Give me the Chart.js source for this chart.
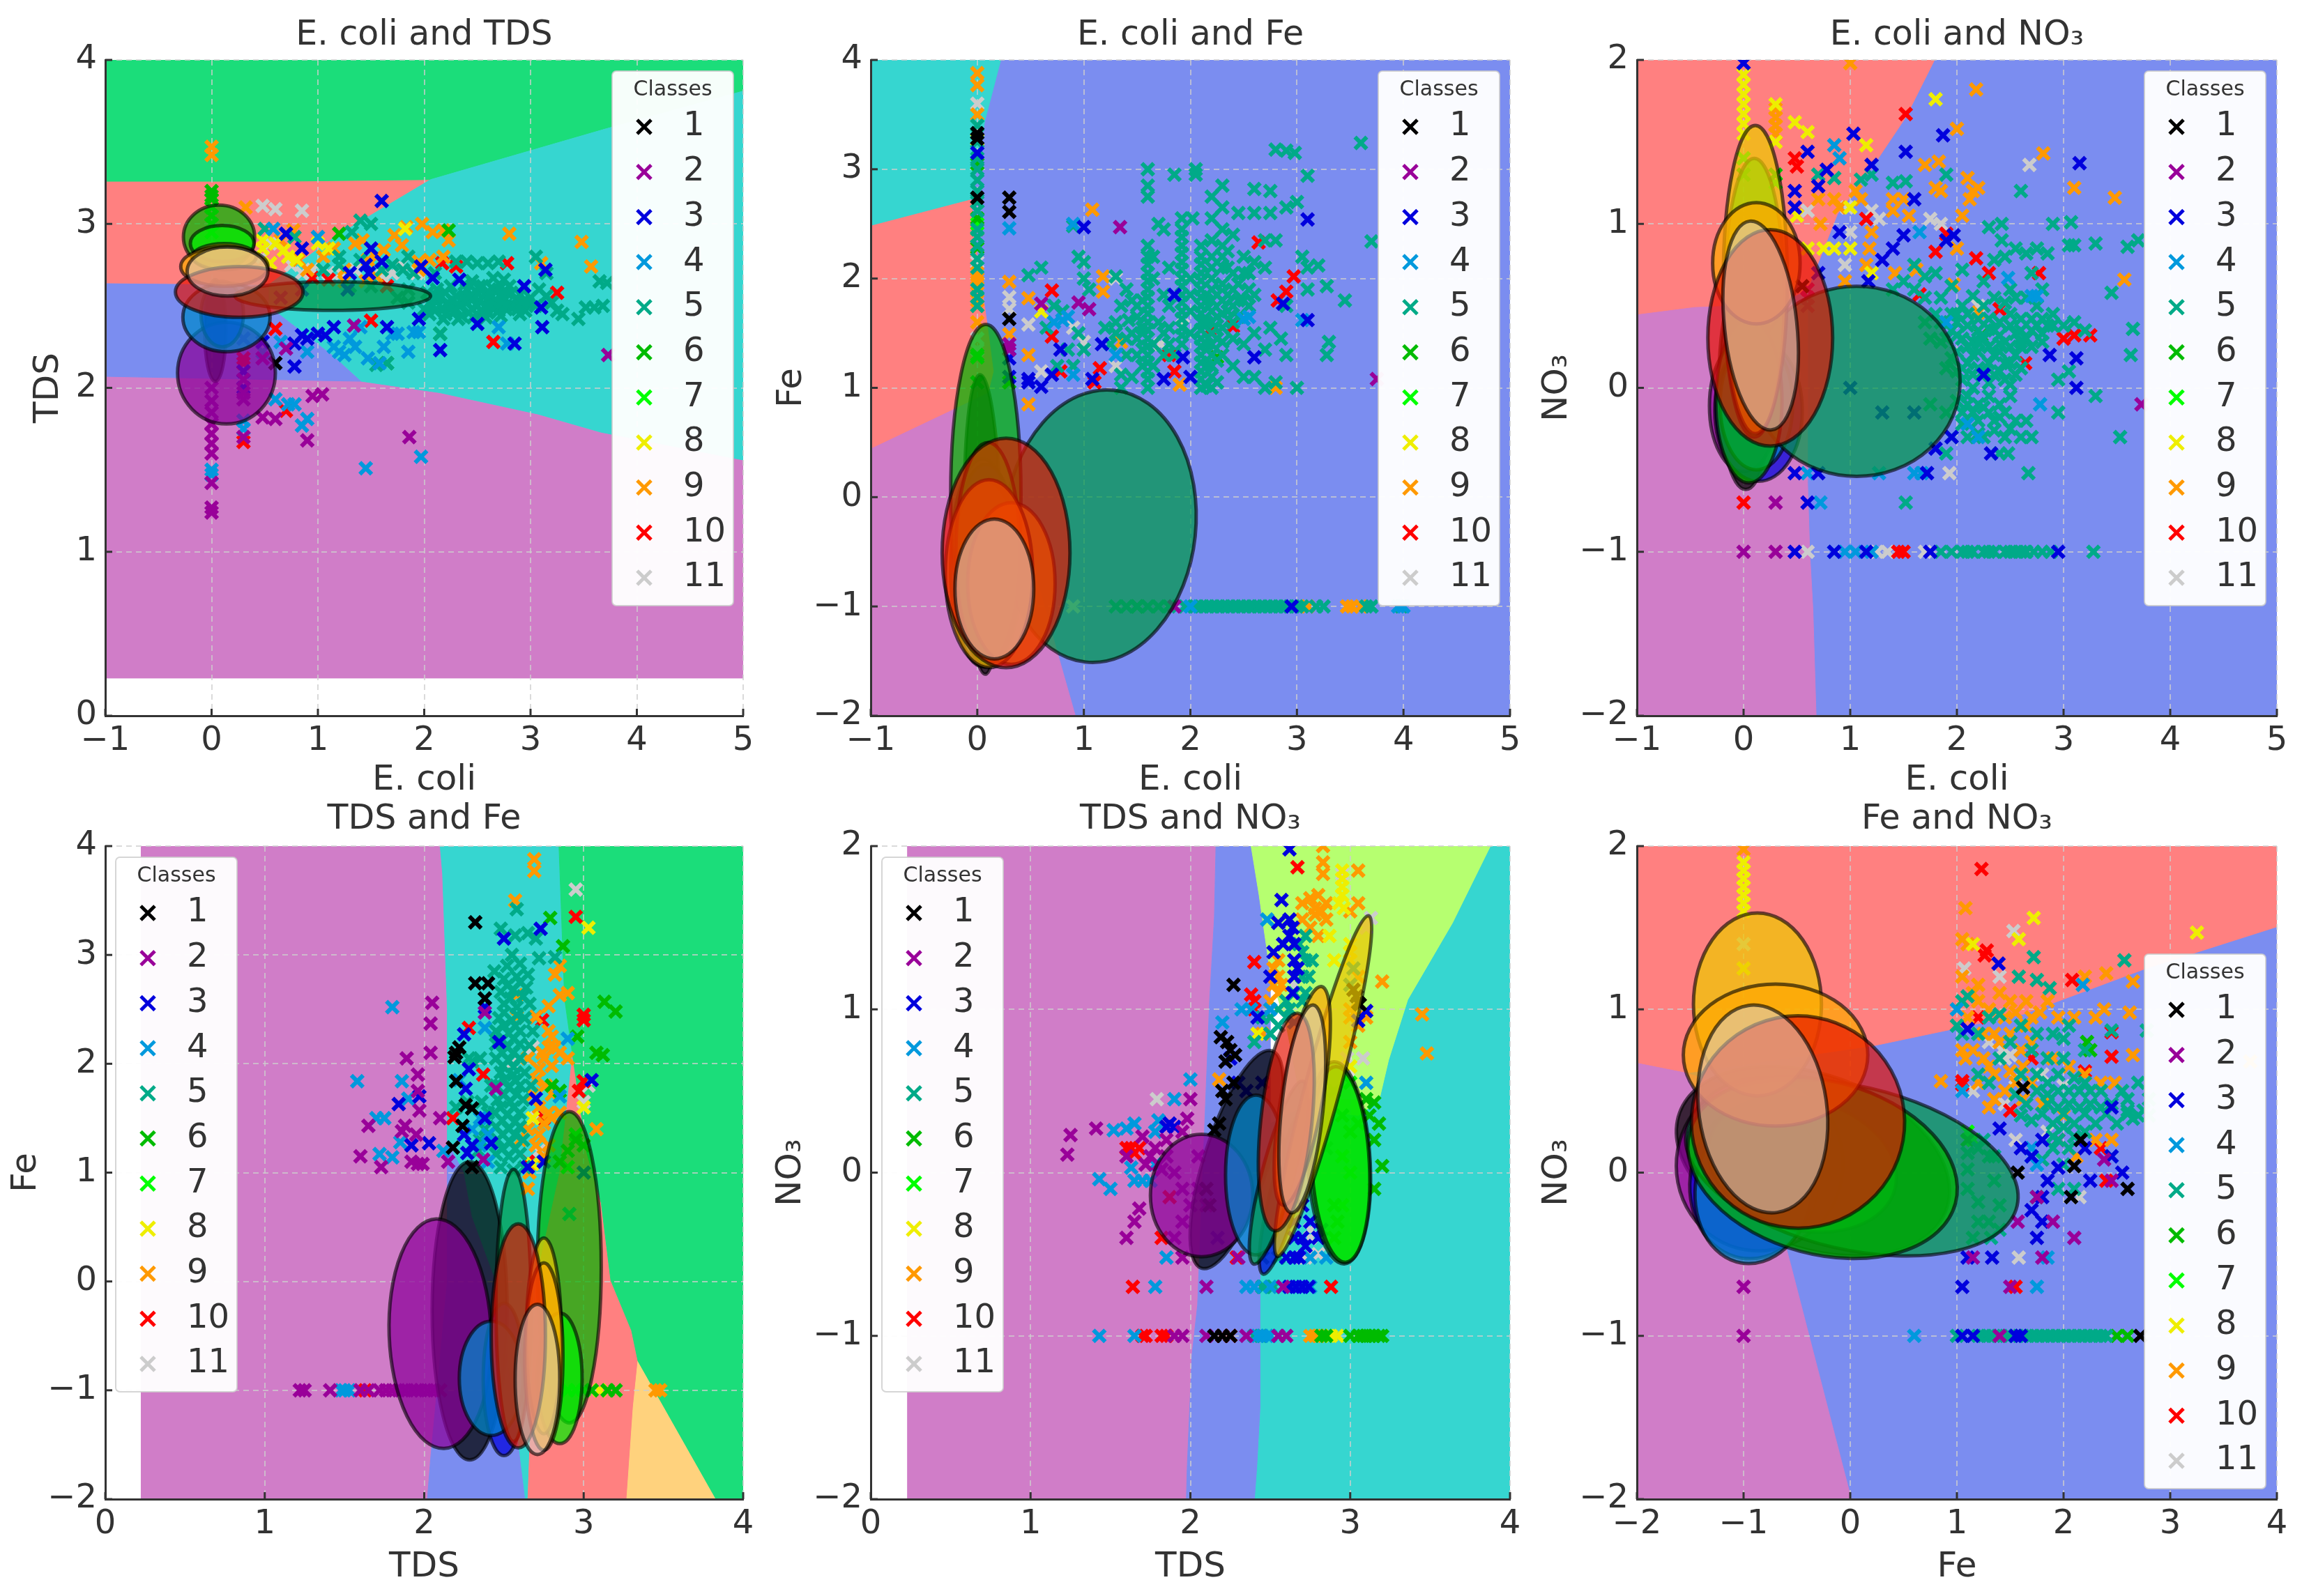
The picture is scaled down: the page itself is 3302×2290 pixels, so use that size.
<!DOCTYPE html>
<html>
<head>
<meta charset="utf-8">
<title>Decision regions</title>
<script src="https://cdn.jsdelivr.net/npm/chart.js@4/dist/chart.umd.js"></script>
<style>
  html, body { margin: 0; padding: 0; background: #fff; }
  #wrap { position: relative; width: 3302px; height: 2290px; overflow: hidden; }
  canvas { position: absolute; }
</style>
</head>
<body>
<div id="wrap"></div>
<script>
const classNames = ['1', '2', '3', '4', '5', '6', '7', '8', '9', '10', '11'];
const classColors = ['#000000', '#990099', '#0000dd', '#0099dd', '#00aa88', '#00bb00', '#00ff00', '#eeee00', '#ff9900', '#ff0000', '#cccccc'];
const ellipseColors = ['#000000', '#8a0099', '#0000dd', '#0088cc', '#00984a', '#00b400', '#00f000', '#eec800', '#ffa800', '#e81000', '#d8d0c8'];
const ellipseAlphas = [.72, .72, .72, .72, .72, .72, .72, .72, .72, .68, .55];

const titles = ['E. coli and TDS', 'E. coli and Fe', 'E. coli and NO₃', 'TDS and Fe', 'TDS and NO₃', 'Fe and NO₃'];
const xLabels = ['E. coli', 'E. coli', 'E. coli', 'TDS', 'TDS', 'Fe'];
const yLabels = ['TDS', 'Fe', 'NO₃', 'Fe', 'NO₃', 'NO₃'];

const ecoliTicks = [-1, 0, 1, 2, 3, 4, 5];
const tdsTicks = [0, 1, 2, 3, 4];
const feTicks = [-2, -1, 0, 1, 2, 3, 4];
const no3Ticks = [-2, -1, 0, 1, 2];
const xTicks = [ecoliTicks, ecoliTicks, ecoliTicks, tdsTicks, tdsTicks, feTicks];
const yTicks = [tdsTicks, feTicks, no3Ticks, feTicks, no3Ticks, no3Ticks];

const GREEN = '#1bdd7a', RED = '#ff8080', BLUE = '#7b8df0', PURPLE = '#d07dc8', TEAL = '#36d6d0', LIME = '#b6ff70', AMBER = '#ffd27d', GREY = '#dddddd';

// decision regions, colour then outline in data coordinates
const regions1 = [
  [PURPLE, [-1,.23, 5,.23, 5,1.56, 3.66,1.73, 3.07,1.84, 2.15,1.97, 1.41,2.04, -1,2.07]],
  [BLUE, [-1,2.07, 1.41,2.04, 1.14,2.2, .54,2.5, .54,2.63, -1,2.64]],
  [RED, [-1,2.64, .54,2.63, 1.18,2.93, 2.06,3.27, .65,3.26, -1,3.26]],
  [GREEN, [-1,3.26, .65,3.26, 2.06,3.27, 3.71,3.58, 5,3.81, 5,4, -1,4]],
  [TEAL, [.54,2.63, 1.18,2.93, 2.06,3.27, 3.71,3.58, 5,3.81, 5,1.56, 3.66,1.73, 3.07,1.84, 2.15,1.97, 1.41,2.04, 1.14,2.2, .54,2.5]]
];
const regions2 = [
  [BLUE, [-1,-2, 5,-2, 5,4, -1,4]],
  [TEAL, [-1,4, .22,4, .07,3.44, -.06,2.72, -1,2.48]],
  [RED, [-1,2.48, -.06,2.72, 0,2.2, .09,1.6, .15,1.15, .1,.95, -1,.44]],
  [PURPLE, [-1,.44, .1,.95, .25,.3, .92,-2, -1,-2]]
];
const regions3 = [
  [BLUE, [-1,-2, 5,-2, 5,2, -1,2]],
  [RED, [-1,2, 1.79,2, 1.52,1.65, 1.2,1.34, .88,1.06, .6,.6, .32,.51, -.46,.49, -1,.445]],
  [PURPLE, [-1,.445, -.46,.49, .32,.51, .6,.5, .6,-.58, .62,-1, .65,-1.35, .68,-2, -1,-2]]
];
const regions4 = [
  [PURPLE, [.225,-2, 2.02,-2, 2.04,-1.63, 2.145,0, 2.145,2.5, 2.115,3.75, 2.1,4, .225,4]],
  [BLUE, [2.145,1.3, 2.25,1, 2.3,.6, 2.45,0, 2.55,-1, 2.635,-2, 2.02,-2, 2.04,-1.63, 2.145,0]],
  [TEAL, [2.1,4, 2.845,4, 2.88,2.6, 2.93,2.08, 2.85,1, 2.7,0, 2.65,-2, 2.635,-2, 2.55,-1, 2.45,0, 2.3,.6, 2.25,1, 2.145,1.3, 2.145,2.5, 2.115,3.75]],
  [RED, [2.93,2.08, 3.02,1.18, 3.11,.72, 3.17,.01, 3.3,-.45, 3.34,-.73, 3.31,-1.16, 3.27,-2, 2.65,-2, 2.7,0, 2.85,1]],
  [AMBER, [3.34,-.73, 3.83,-2, 3.27,-2, 3.31,-1.16]],
  [GREEN, [2.845,4, 4,4, 4,-2, 3.83,-2, 3.34,-.73, 3.3,-.45, 3.17,.01, 3.11,.72, 3.02,1.18, 2.93,2.08, 2.88,2.6]]
];
const regions5 = [
  [PURPLE, [.23,-2, 1.975,-2, 1.98,-1.81, 2.01,-1.12, 2.045,-.81, 2.12,1.05, 2.15,1.56, 2.16,2, .23,2]],
  [BLUE, [1.975,-2, 2.405,-2, 2.42,-1.8, 2.44,-1.44, 2.44,-.66, 2.5,.3, 2.5,1.22, 2.43,1.7, 2.38,2, 2.16,2, 2.15,1.56, 2.12,1.05, 2.045,-.81, 2.01,-1.12, 1.98,-1.81]],
  [TEAL, [2.405,-2, 4,-2, 4,2, 3.877,2, 3.64,1.53, 3.36,1.06, 3.24,.69, 3.18,.44, 3.05,.35, 2.7,.4, 2.5,.3, 2.44,-.66, 2.44,-1.44, 2.42,-1.8]],
  [LIME, [2.38,2, 3.877,2, 3.64,1.53, 3.36,1.06, 3.24,.69, 3.18,.44, 3.05,.35, 2.7,.4, 2.6,.9, 2.5,1.22, 2.43,1.7]],
  [GREY, [3.0,.75, 2.9,.45, 3.05,.45]]
];
const regions6 = [
  [BLUE, [-2,-2, 4,-2, 4,2, -2,2]],
  [RED, [-2,2, 4,2, 4,1.506, 2.77,1.25, 1.62,.97, .24,.78, -1.54,.61, -2,.67]],
  [PURPLE, [-2,.67, -1.54,.61, -1,.5, -.56,-.56, .01,-2, -2,-2]]
];
const regionSets = [regions1, regions2, regions3, regions4, regions5, regions6];

// class index (0 based), centre x, centre y, radius x, radius y, tilt in degrees
const ellipses1 = [
  [0, .035,2.35, .1,.31, 0], [1, .14,2.09, .46,.31, 0], [2, .1,2.45, .2,.2, 0], [3, .14,2.43, .41,.21, 0],
  [4, 1.14,2.56, .92,.087, 0], [5, .07,2.92, .335,.195, 0], [6, .1,2.88, .3,.11, 0], [7, .12,2.8, .3,.08, 0],
  [8, .12,2.74, .41,.12, 0], [9, .26,2.585, .6,.155, 0], [10, .15,2.71, .38,.15, 0]
];
const ellipses2 = [
  [0, .05,-.25, .17,1.37, -1], [1, .05,-.6, .3,.95, 0], [2, .08,-.6, .3,.9, 0], [3, .08,-.7, .33,.85, 0],
  [4, 1.15,-.265, .9,1.25, 6], [5, .08,.02, .33,1.56, 0], [6, .1,-.5, .3,1.0, 0], [7, .32,-.79, .41,.74, 0],
  [8, .11,-.7, .41,.86, 0], [9, .27,-.51, .6,1.05, 0], [10, .16,-.84, .37,.64, 0]
];
const ellipses3 = [
  [0, .02,.04, .25,.66, 0], [1, 0,-.11, .32,.4, 0], [2, .14,-.14, .41,.43, 0], [3, .12,-.1, .34,.4, 0],
  [4, 1.06,.04, .97,.58, 0], [5, .05,-.08, .31,.5, 0], [6, .1,.55, .28,.85, 0], [7, .11,.66, .3,.94, 0],
  [8, .12,.76, .41,.37, 0], [9, .25,.305, .585,.66, 0], [10, .16,.38, .34,.64, -6]
];
const ellipses4 = [
  [0, 2.285,-.27, .235,1.37, 0], [1, 2.1,-.48, .32,1.055, -2], [2, 2.5,-.9, .13,.7, 0], [3, 2.42,-.89, .2,.525, 0],
  [4, 2.56,-.22, .11,1.25, 0], [5, 2.91,.13, .2,1.43, 0], [6, 2.85,-.89, .14,.6, 0], [7, 2.75,-.5, .11,.9, 0],
  [8, 2.75,-.69, .12,.86, 0], [9, 2.59,-.5, .17,1.03, 0], [10, 2.71,-.9, .14,.69, 0]
];
const ellipses5 = [
  [0, 2.29,.08, .2,.7, 18], [1, 2.07,-.14, .32,.375, 0], [2, 2.6,-.09, .09,.55, 15], [3, 2.41,-.015, .19,.49, 0],
  [4, 2.55,.0, .1,.58, 15], [5, 2.93,.06, .195,.62, -3], [6, 2.94,.05, .18,.6, -3], [7, 2.83,.53, .11,1.08, 15],
  [8, 2.7,.47, .13,.68, 10], [9, 2.6,.31, .16,.67, 6], [10, 2.7,.39, .13,.64, 6]
];
const ellipses6 = [
  [0, -.35,.07, 1.33,.53, 20], [1, -.85,.05, .78,.53, 10], [2, -.9,-.05, .6,.48, 10], [3, -.9,-.09, .55,.47, 10],
  [6, -.45,.05, .9,.4, 15], [4, .015,.03, 1.59,.5, 13], [5, -.26,.03, 1.29,.53, 15], [7, -.87,1.03, .6,.56, 0],
  [8, -.7,.72, .865,.435, 0], [9, -.49,.31, 1.0,.65, 10], [10, -.82,.39, .6,.64, -8]
];
const ellipseSets = [ellipses1, ellipses2, ellipses3, ellipses4, ellipses5, ellipses6];

// scatter marks, one flat x,y list per class
const points1 = [
  [.6,2.15],
  [0,1.24, 0,1.27, 0,1.42, 0,1.6, 0,1.66, 0,1.72, 0,1.78, 0,1.85, 0,1.92, 0,2, .3,1.7, .3,1.93, .3,1.97, .3,2.05, .48,1.82, .6,1.81, .48,2.18, .7,2.24, .95,1.95, 1.04,1.96, .9,1.68, 1.86,1.7, 3.73,2.2, 1.34,2.38],
  [1.6,3.14, .7,2.94, .85,2.6, .78,2.27, .78,2.13, .85,2.32, .9,2.3, 1,2.33, 1.07,2.32, 1.15,2.37, 1.65,2.37, 1.95,2.42, 2.15,2.23, 2.08,2.67, 2.33,2.66, 2.5,2.39, 2.94,2.62, 3.1,2.49, 3.11,2.37, 3.14,2.72, 2.85,2.27, 1.97,2.74, 1.45,2.75, 1.5,2.85, 1.6,2.77, .85,2.85, .65,2.55, 1.28,2.6, 1.3,2.7, 1.48,2.7, .3,2.3, .3,2.1, .3,2, .48,2.28],
  [0,1.5, 0,1.47, .3,1.75, .3,1.8, .6,1.93, .72,1.9, .78,1.9, .9,1.81, .85,1.77, 1.45,1.51, 1.97,1.58, 1.25,2.2, 1.2,2.22, 1.35,2.25, 1.47,2.18, 1.58,2.15, 1.62,2.25, 1.3,2.3, 1.4,2.37, 1.75,2.33, 1.85,2.22, 1.9,2.34, 1.95,2.34, 2.7,2.37, 2.78,2.27, .9,2.22, .65,2.28, .58,2.97, 1,2.92, .48,2.22, 1.15,2.25, 1.7,2.33],
  [1.2,2.8, 1.32,2.95, 1.4,3.02, 1.5,3, .5,2.97, .78,2.92, 2.3,2.77, 2.4,2.77, 2.5,2.76, 2.6,2.76, 2.7,2.77, 3.05,2.8, 3.15,2.7, 2,2.48, 2.05,2.52, 2.1,2.47, 2.15,2.55, 2.2,2.45, 2.25,2.5, 2.3,2.56, 2.35,2.44, 2.4,2.52, 2.45,2.48, 2.5,2.58, 2.55,2.46, 2.6,2.53, 2.65,2.6, 2.7,2.47, 2.75,2.55, 2.8,2.62, 2.85,2.5, 2.9,2.57, 2.95,2.47, 2.2,2.58, 2.3,2.48, 2.4,2.6, 2.5,2.5, 2.6,2.46, 2.7,2.6, 2.8,2.5, 2.9,2.45, 2.65,2.67, 2.55,2.62, 2.75,2.66, 3,2.55, 3.08,2.6, 3.15,2.56, 3.2,2.52, 3.25,2.47, 3.3,2.45, 3.45,2.42, 3.52,2.49, 3.6,2.49, 3.68,2.5, 3.65,2.65, 3.72,2.64, 2.15,2.33, 1.65,2.15, 1.55,2.14, 1.85,2.6, 1.7,2.75, 1.8,2.72, 1.9,2.7, 2.1,2.7, 1.3,2.62, 1.5,2.62, 1.75,2.55, 1.85,2.52, 1.2,2.75, 1.05,2.72, 1.4,2.78, 1.6,2.72, 1.85,2.8, 2.05,2.45, 2.45,2.65, 2.03,2.58, 2.12,2.6, 2.27,2.53, 2.37,2.55, 2.47,2.55, 2.57,2.57, 2.67,2.53, 2.77,2.48, 2.87,2.54, 2.97,2.52, 3.05,2.5, 2.22,2.52, 2.42,2.46, 2.62,2.5, 2.82,2.58,
   2.08,2.5, 2.18,2.48, 2.28,2.46, 2.33,2.5, 2.43,2.56, 2.52,2.53, 2.58,2.5, 2.68,2.5, 2.73,2.52, 2.78,2.58, 2.88,2.48, 2.92,2.52, 2.72,2.44, 2.58,2.43, 2.46,2.43, 2.32,2.42, 2.18,2.42, 2.62,2.57, 2.72,2.57, 2.52,2.62, 2.38,2.63, 2.25,2.62, 2.12,2.55],
  [0,3.2, 0,3.17, 0,3.15, 1.2,2.94, 2.23,2.96, 1.65,2.15, 2.15,2.33],
  [0,3.1, 0,3.05, 0,3, 0,2.95],
  [.48,2.9, .6,2.88, .68,2.84, .72,2.8, .8,2.78, 1,2.88, 1.1,2.85, 1.82,2.97, .48,2.85, .55,2.76],
  [0,3.47, 0,3.42, .32,3.1, .77,2.96, .65,2.9, .82,2.78, .9,2.72, 1.05,2.8, 1.15,2.85, 1.25,2.72, 1.35,2.88, 1.42,2.9, 1.47,2.78, 1.55,2.8, 1.62,2.84, 1.72,2.93, 1.83,2.98, 1.79,2.87, 1.98,3, 2.08,2.95, 2.18,2.96, 2.23,2.9, 2.18,2.8, 1.95,2.77, 2.05,2.78, 2.8,2.94, 3.48,2.89, 3.57,2.74, 3.1,2.76, 1.45,2.65, 1.55,2.68, 1.25,2.65, 1.95,2.72],
  [.6,2.36, .3,2.15, .3,2.18, .3,1.67, .7,1.86, 2.17,2.76, 2.3,2.74, 2.78,2.76, 2.65,2.28, 1.65,2.62, 1.1,2.66, .95,2.67, 1.5,2.41, 3.25,2.58],
  [.48,3.11, .6,3.09, .85,3.08, .48,2.8, .75,2.75, .85,2.7, .95,2.72, 1.1,2.7, 1.22,2.7, 1.35,2.72, 1.7,2.7, 1.78,2.75, 1.93,2.7, .55,2.88, 1.6,2.68]
];
const points2 = [
  [0,3.33, 0,3.28, 0,2.74, .3,2.74, .3,2.61, .3,1.63],
  [.6,1.77, .95,1.78, 1.05,1.72, 1.34,2.47, .3,1.4, .3,1.35, 1.85,-1, 3.75,1.08],
  [0,3.15, .3,1.27, .3,1.1, .48,1.05, .48,1.08, .6,1.01, .7,1.12, .78,1.35, 1,2.47, 1.08,1.08, 1.17,1.4, 1.75,1.08, 1.85,1.85, 1.93,1.28, 2,1.1, 2.6,1.28, 2.87,1.77, 3.1,2.54, 3.1,1.62, 2.95,-1],
  [.3,2.46, .9,2.5, .72,1.6, .8,1.62, .85,1.65, .9,1.12, 1.3,1.3, 2.5,1.63, 2.55,1.65, 3.05,1.62, 2,-1, 3.95,-1, 4,-1],
  [0,1.75, 0,1.83, 0,1.9, 0,2.1, 0,2.18, 0,2.3, 0,2.38, 0,2.45, 0,2.62, 0,2.7, 0,2.8, 0,2.9, 0,3, 0,3.1, 0,3.25, 0,3.4,
   .48,2.03, .6,2.1, .72,1.75, .8,1.7, .65,1.55, .75,1.2, .85,1.35, .9,1.2, .95,1.5, 1,1.35, .95,2.2, 1,2.15, 1,2, 1.05,1.9, .9,2.48, 1.3,2.02, 1.35,1, 1.2,1.55, 1.25,1.4, 1.3,1.6, 1.35,1.75, 1.4,1.9, 1.45,1.5, 1.5,1.3, 1.45,1.1, 1.5,1.65, 1.55,1.8, 1.55,1.2,
   1.35,1.12, 1.3,1.5, 1.4,1.3, 1.4,1.45, 1.42,1.62, 1.5,1.45, 1.5,1.75, 1.45,1.8, 1.55,1.55,
   1.6,2.75, 1.6,2.85, 1.6,3, 1.6,1, 1.6,1.08, 1.6,1.15, 1.6,1.23, 1.6,1.3, 1.6,1.38, 1.6,1.45, 1.6,1.53, 1.6,1.6, 1.6,1.68, 1.6,1.75, 1.6,1.83, 1.6,1.9, 1.6,1.98, 1.6,2.05, 1.6,2.13, 1.6,2.2, 1.6,2.3, 1.55,1.35, 1.55,1.5, 1.65,1.2, 1.65,1.4, 1.65,2, 1.65,2.2,
   1.7,2.5, 1.75,2.45, 1.7,1.6, 1.75,1.3, 1.8,1.75, 1.8,2.1,
   1.85,2.95, 1.92,1.4, 1.92,1.48, 1.92,1.55, 1.92,1.63, 1.92,1.7, 1.92,1.78, 1.92,1.85, 1.92,1.93, 1.92,2, 1.92,2.08, 1.92,2.15, 1.92,2.23, 1.92,2.3, 1.92,2.38, 1.92,2.45, 1.92,2.55, 2.02,2.55,
   2.1,1, 2.1,1.08, 2.1,1.15, 2.1,1.23, 2.1,1.3, 2.1,1.38, 2.1,1.45, 2.1,1.53, 2.1,1.6, 2.1,1.68, 2.1,1.75, 2.1,1.83, 2.1,1.9, 2.1,1.98, 2.1,2.05, 2.1,2.13, 2.1,2.2, 2.1,2.3, 2.05,3, 2.05,2.95,
   2.2,1, 2.2,1.1, 2.2,1.2, 2.2,1.3, 2.2,1.4, 2.2,1.5, 2.2,1.6, 2.2,1.7, 2.2,1.8, 2.2,1.9, 2.2,2, 2.2,2.1, 2.2,2.2, 2.2,2.35, 2.2,2.55, 2.2,2.75, 2.3,1.3, 2.3,1.42, 2.3,1.55, 2.3,1.68, 2.3,1.8, 2.3,1.95, 2.3,2.1, 2.3,2.2, 2.3,2.3, 2.3,2.45, 2.3,2.65, 2.3,2.85,
   2.15,1.02, 2.25,1.05, 2.15,1.2, 2.25,1.25, 2.15,1.4, 2.25,1.45, 2.15,1.6, 2.25,1.65, 2.15,1.8, 2.25,1.85, 2.35,1.7, 2.35,1.85, 2.35,2.1, 2.35,2.25, 2.45,1.65, 2.45,1.8, 2.45,1.95, 2.55,1.75, 2.55,1.9, 2.55,2.05, 2,1.7, 2,1.5, 2,1.85, 2,2, 1.75,1.5, 1.75,1.85, 1.8,1.4, 1.8,1.55, 1.85,1.3,
   2.4,1.2, 2.4,1.45, 2.4,1.6, 2.4,1.75, 2.4,1.9, 2.4,2.05, 2.4,2.4, 2.45,2.6, 2.5,1.1, 2.5,1.4, 2.5,1.8, 2.5,2.2, 2.5,2.05, 2.6,1.1, 2.6,1.5, 2.6,1.85, 2.6,2.15, 2.6,2.6, 2.6,2.82, 2.7,1, 2.7,1.35, 2.7,2.1, 2.7,2.35, 2.75,1.55, 2.75,2.6, 2.75,2.8, 2.8,1.05, 2.8,2.35, 2.85,1.45, 2.9,1.3, 2.9,1.75, 2.9,2.65, 3,1, 3,2.7, 3.05,2.2, 3.1,2.1, 3.1,1.9, 3.1,2.94, 2.8,3.18, 2.9,3.17, 2.98,3.15, 3.2,2.12, 3.28,1.93, 3.45,1.8, 3.3,1.42, 3.28,1.3, 3.6,3.24, 3.7,2.34,
   1.3,-1, 1.4,-1, 1.5,-1, 1.6,-1, 1.7,-1, 1.8,-1, 1.95,-1, 2.05,-1, 2.1,-1, 2.15,-1, 2.2,-1, 2.25,-1, 2.3,-1, 2.35,-1, 2.4,-1, 2.45,-1, 2.5,-1, 2.55,-1, 2.6,-1, 2.65,-1, 2.7,-1, 2.75,-1, 2.8,-1, 2.85,-1, 2.9,-1, 3,-1, 3.05,-1, 3.18,-1, 3.25,-1, 3.65,-1, 3.7,-1, 3.98,-1],
  [0,3.05, 0,2.55, 0,2.28, 0,1.05, .3,1.05, 2.25,1.28, 1.5,-1],
  [0,1.3, 0,1.28, 0,2.5],
  [0,3.27, .6,1.7],
  [0,3.88, 0,3.77, 0,3.5, 0,2.45, 0,2.05, 0,2, 0,1.95, 0,1.8, 0,1.75, 0,1.6, .3,1.97, .3,1.49, .48,1.82, .48,1.3, .48,.85, 1.08,2.63, 1.18,2.02, 1.18,1.88, 1.35,1.42, 1.9,1.03, 2.8,1, 3.1,-1, 3.47,-1, 3.52,-1, 3.6,-1],
  [.7,1.89, .7,1.47, .78,1.15, 1.15,1.18, 1.1,1.05, 1.8,1.3, 1.85,1.15, 2.18,1.53, 2.4,1.56, 2.64,2.33, 2.82,1.8, 2.9,1.88, 2.97,2.02],
  [0,3.6, 0,2.15, 0,1.45, 0,1.35, .3,1.83, .3,1.72, .48,1.58, .6,1.15, .9,1.55, 1,1.42, 1.3,1.2, 1.3,2, 1.72,1.4, 1.93,1.57, .9,-1]
];
const points3 = [
  [.55,.62],
  [0,-1, .3,-1, .3,-.7, 3.73,-.1, .6,.6, .6,.55, .6,.5],
  [0,1.98, .48,1.2, .48,1.1, .6,1.44, .78,1.33, .7,1.23, .9,.95, 1.03,1.55, 1.2,1.36, 1.52,1.44, 1.6,1.15, 1.87,1.54, 1.4,.85, 1.5,.93, 1.9,.9, 1.97,.93, 3.15,1.37, .7,.7, 1.17,.65, 1.3,.78, 2.25,.08, 2.32,-.4, 2.87,.2, 3.12,.18, 3.12,0, 1.95,-.3, 1.8,-.37, 1.72,-.52, .48,-.52, .7,-.52, .6,-.7, .48,-1, .85,-1, 1.15,-1, 1.75,-1, 2.95,-1, 1,0, 1.3,-.15, 1.6,-.15],
  [.85,1.48, .9,1.4, 1.65,.95, 2.48,.67, 2.7,.56, 2.75,.56, 2.78,-.1, .6,-.52, .72,-.7, 1.27,-.52, 1.6,-.52, 1.67,-.52, .85,-1, .95,-1, 1.05,-1, 1.2,-1, 2.2,-.3, 2.1,-.22, 1.9,.4],
  [.7,1.3, .85,1.28, 1.1,1.27, 1.2,1.3, 1.4,1.25, 1.52,1.26, 1.9,1.3, 2.6,1.2, 2.3,.98, 2.42,1, 2.42,.9, 2.9,1, 3.07,1.01, 3.05,.87, 3.1,.87, 3.3,.88, 3.6,.86, 3.7,.9, 3.45,.58, 3.65,.36, 3.63,.2, 3.53,-.3, 3.3,-.05, 2.95,-.15, 3.05,.1, 2.95,.05, 1.52,-.7, 2.67,-.52,
   1.6,.75, 1.7,.68, 1.8,.7, 1.95,.62, 2.05,.72, 2.15,.56, 2.25,.65, 2.35,.78, 2.45,.8, 2.55,.85, 2.65,.82, 2.75,.85, 2.85,.82, 2.5,.6, 2.7,.7, 2.8,.6, 1.7,.4, 1.8,.45, 1.9,.3, 2,.4, 2.1,.45, 2.2,.35, 2.3,.42, 2.4,.32, 2.5,.45, 2.6,.35, 2.7,.42, 2.8,.33, 2.9,.45, 3,.38, 3.1,.4, 3.2,.35, 2,.22, 2.1,.15, 2.2,.22, 2.3,.15, 2.4,.22, 2.5,.15, 2.6,.25, 2.7,.25, 1.9,.12, 2.05,.05, 2.15,.08, 2.35,.08, 2.45,.05, 2.55,.08, 2,-.08, 2.1,-.05, 2.2,-.1, 2.3,-.05, 2.4,-.1, 2.5,-.05, 1.75,-.1, 1.9,-.15, 2.2,-.2, 2.35,-.2, 2.55,-.2, 2.65,-.2, 1.95,-.3, 2.1,-.3, 2.25,-.3, 2.45,-.3, 2.6,-.3, 2.7,-.3, 1.9,-.4, 2.4,-.4, 2.48,-.4,
   1.75,.3, 1.85,.28, 1.95,.35, 2.05,.3, 2.15,.28, 2.25,.3, 2.35,.35, 2.45,.28, 2.55,.33, 2.65,.3, 2.75,.38, 2.85,.38, 1.85,.4, 1.95,.45, 2.05,.5, 2.25,.5, 2.35,.55, 2.45,.52, 2.55,.55, 2.65,.55, 2.75,.5, 2,.1, 2.25,.1, 2.45,.15, 2.6,.12, 1.95,.18, 2.1,.25, 2.3,.25, 2.5,.25, 2.05,-.15, 2.15,-.15, 2.3,-.15, 2.45,-.15, 1.85,.55, 1.7,.55, 1.6,.6, 1.5,.65, 1.4,.6,
   2,.45, 2.1,.38, 2.2,.42, 2.3,.36, 2.4,.4, 2.5,.38, 2.6,.42, 2.7,.35, 2.8,.42, 2.9,.38, 2,.32, 2.2,.28, 2.4,.27, 2.6,.28, 2.8,.28, 2.15,.2, 2.35,.2, 2.55,.2, 2.05,.12, 2.2,.12, 2.4,.1, 2.15,.0, 2.3,.03, 2.5,.02, 2.1,-.1, 2.25,-.12, 2.4,-.18, 2.05,-.22, 2.2,-.28, 2.35,-.26, 2.5,-.25,
   1.85,-1, 1.95,-1, 2.05,-1, 2.1,-1, 2.15,-1, 2.25,-1, 2.3,-1, 2.35,-1, 2.45,-1, 2.5,-1, 2.55,-1, 2.6,-1, 2.65,-1, 2.72,-1, 2.8,-1, 2.88,-1, 3.28,-1],
  [0,1.3, .3,1.3, 2.23,.32],
  [0,1.4, .3,1.25],
  [0,1.55, 0,1.61, 0,1.67, 0,1.73, 0,1.79, 0,1.85, 0,1.91, .3,1.73, .3,1.5, .48,1.62, .6,1.56, 1.15,1.48, 1.8,1.76, .6,.85, .75,.85, .85,.85, 1,.85, 1,1.1, 1.2,.7, .5,1.05],
  [1,1.98, 2.18,1.82, 2,1.58, .3,1.6, .3,1.65, .3,1.55, .3,1.7, 1.7,1.36, 1.83,1.38, 1.8,1.22, 1.85,1.2, 2.1,1.28, 2.15,1.2, 2.2,1.22, 2.05,1.05, 2.12,1.15, 1.4,1.15, 1.4,1.08, 1.5,1.15, 1.55,1.05, .7,1.15, .85,1.15, .9,1.1, 1.05,1.2, 1.1,1.15, 1.2,.95, 1.18,.85, 1.15,.75, 2.81,1.43, 3.1,1.22, 3.48,1.16, 3.57,.66, 2.2,.46, 1.97,.63, 1.42,.7, 1.62,.72, .72,1, .95,.65, 2,.85],
  [1.52,1.67, 1.15,1.03, 1.9,.94, 1.8,.83, 2.18,.79, 2.3,.7, 2.77,.7, 2.64,.15, 3.1,.32, 3,.3, 3.25,.32, 1.65,.57, 2.4,.48, 0,-.7, .48,1.4, .5,1.35, 1.5,-1, 1.45,-1],
  [.48,1.4, .6,1.08, .97,1.1, 1.2,1.08, 1.27,1.03, 1.75,1.03, 1.85,1, .95,.75, 2.2,.5, 2.68,1.36, 1.93,-.52, .6,-1, 1.25,-1, 1.35,-1, 1.7,-1, 1,.95]
];
const points4 = [
  [2.32,3.3, 2.32,2.74, 2.4,2.74, 2.38,2.6, 2.22,2.15, 2.2,2.1, 2.19,2.06, 2.2,1.84, 2.26,1.62, 2.3,1.59, 2.24,1.43, 2.18,1.23, 2.3,1.05],
  [1.22,-1, 1.25,-1, 1.41,-1, 1.6,-1, 1.65,-1, 1.72,-1, 1.76,-1, 1.8,-1, 1.84,-1, 1.88,-1, 1.92,-1, 1.95,-1, 1.98,-1, 2.02,-1, 2.06,-1, 2.1,-1, 2.05,2.56, 2.04,2.37, 2.04,2.1, 1.89,2.05, 1.96,1.9, 1.96,1.75, 1.97,1.57, 2.1,1.5, 1.88,1.43, 1.86,1.38, 1.65,1.43, 1.6,1.15, 1.73,1.05, 1.92,1.1, 1.95,1.35, 1.96,1.08, 1.99,1.08, 2.15,1.1, 2.38,2.47, 2.45,1.77, 2.37,1.12],
  [2.73,3.24, 2.5,3.15, 2.38,2.52, 2.25,2.27, 2.47,2.2, 2.28,1.95, 2.26,1.77, 1.84,1.63, 1.97,1.7, 2.03,1.27, 1.92,1.25, 2.25,1.35, 2.3,1.25, 2.27,1.18, 2.38,1.5, 2.42,1.27, 2.7,1.68, 3.05,1.85, 2.75,1.1, 2.65,1.05, 3,1],
  [1.8,2.52, 1.58,1.84, 1.86,1.84, 1.9,1.68, 1.7,1.5, 1.75,1.5, 1.85,1.28, 1.72,1.17, 1.8,1.14, 2.12,1.2, 2.22,1.85, 2.38,2.33, 2.3,1.4, 2.35,1.5, 2.4,1.35, 2.85,1.7, 2.9,2.23, 1.48,-1, 1.5,-1, 1.53,-1, 2.35,1.25, 2.4,1.1],
  [2.58,3.42, 2.48,3.24, 2.57,3.18, 2.65,3.2, 2.7,3.15, 2.72,2.97, 2.82,2.98, 2.44,2.85, 2.91,.62,
   2.55,3, 2.52,2.9, 2.6,2.92, 2.5,2.78, 2.58,2.8, 2.65,2.82, 2.48,2.66, 2.56,2.68, 2.64,2.7, 2.5,2.55, 2.58,2.52, 2.66,2.55, 2.47,2.42, 2.55,2.4, 2.63,2.42, 2.45,2.3, 2.53,2.28, 2.6,2.3, 2.68,2.3, 2.45,2.18, 2.52,2.15, 2.6,2.18, 2.66,2.17, 2.45,2.05, 2.53,2.03, 2.6,2.05, 2.48,1.92, 2.56,1.9, 2.63,1.92, 2.45,1.8, 2.53,1.78, 2.6,1.8, 2.67,1.8, 2.46,1.67, 2.54,1.65, 2.62,1.67, 2.44,1.55, 2.52,1.53, 2.6,1.55, 2.45,1.42, 2.53,1.4, 2.6,1.42, 2.46,1.3, 2.54,1.28, 2.62,1.3, 2.45,1.17, 2.53,1.15, 2.6,1.17, 2.48,1.05, 2.56,1.02, 2.63,1.05, 2.38,1.4, 2.35,2.05, 2.28,2.05, 2.27,1.65, 2.34,1.2, 2.2,1.6, 2.3,2.02,
   2.52,2.72, 2.6,2.75, 2.54,2.6, 2.62,2.62, 2.5,2.47, 2.58,2.45, 2.5,2.35, 2.57,2.35, 2.49,2.22, 2.56,2.23, 2.49,2.1, 2.56,2.1, 2.49,1.98, 2.56,1.97, 2.5,1.85, 2.57,1.85, 2.5,1.72, 2.58,1.72, 2.48,1.6, 2.56,1.6, 2.49,1.48, 2.57,1.47, 2.49,1.35, 2.57,1.35, 2.49,1.22, 2.57,1.22, 2.4,1.55, 2.36,1.65, 2.42,1.8, 2.35,1.3],
  [2.79,3.34, 2.87,3.08, 3.13,2.57, 3.2,2.48, 2.96,2.25, 3.08,2.1, 3.12,2.08, 2.8,1.8, 2.85,1.75, 2.95,1.3, 2.9,1.2, 2.85,1.1, 3,1.25, 3.15,-1, 3.2,-1, 3.05,-1],
  [2.9,-1, 2.95,-1, 3,-1, 2.95,1.35, 2.9,1.05],
  [3.03,3.25, 3,1.6, 2.68,1.5, 2.68,1.08, 3.1,-1],
  [2.69,3.88, 2.69,3.77, 2.57,3.5, 2.85,2.9, 2.82,2.82, 2.85,2.63, 2.9,2.65, 2.58,2.63, 2.78,2.53, 2.58,2.43, 2.7,2.43, 2.78,2.3, 2.8,2.25, 2.82,2.15, 2.85,2.1, 2.9,2.05, 2.65,2.05, 2.75,2.05, 2.72,1.95, 2.8,1.98, 2.7,1.85, 2.76,1.8, 2.8,1.72, 2.68,1.72, 2.85,1.55, 2.8,1.5, 2.75,1.45, 2.65,1.4, 2.6,1.3, 2.72,1.35, 2.78,1.25, 3.08,1.4, 2.66,1, 2.65,.85, 3.45,-1, 3.48,-1, 2.78,2.15, 2.74,2.1, 2.72,1.6, 2.78,1.55, 2.7,1.25, 2.75,1.15],
  [2.95,3.35, 3,2.45, 3,2.4, 2.7,2.43, 2.74,2.4, 2.28,2.33, 2.37,1.9, 2.18,1.5, 3,1.84, 2.97,1.75, 2.75,1.5, 1.63,-1, 2.65,1.1],
  [2.95,3.6, 3.03,1.8, 3,1.65, 2.7,1.5, 2.65,1.1, 2.72,1.2, 2.68,2.15, 2.55,2]
];
const points5 = [
  [2.27,1.15, 3.02,1.12, 3.04,1.08, 3.05,1.04, 3.06,1.03, 2.19,.83, 2.23,.8, 2.25,.75, 2.28,.72, 2.22,.68, 2.2,.5, 2.22,.45, 2.27,.55, 2.15,.26, 2.18,.3, 2.1,-.1, 2.12,-.2, 2.15,-1, 2.2,-1, 2.25,-1],
  [1.25,.23, 1.23,.11, 1.41,.27, 1.6,.1, 1.7,.22, 1.78,.15, 1.85,.2, 1.95,.25, 1.98,.33, 2,.45, 1.6,-.4, 1.65,-.3, 1.68,-.22, 1.95,-.52, 1.9,-.4, 1.95,-.3, 2,-.2, 2.1,-.2, 2.05,-.1, 1.8,.05, 1.9,0, 1.95,-.1, 2.1,-.7, 2.58,-.7, 1.9,-1, 1.95,-1, 2.1,-1, 2.35,-1, 2.55,-1, 2.6,-1, 2.3,-.52, 2.05,.1, 1.75,.1, 1.72,.05, 1.85,.1, 1.82,.02],
  [2.62,1.98, 2.57,1.67, 2.55,1.53, 2.62,1.55, 2.52,1.35, 2.58,1.4, 2.65,1.4, 2.65,1.3, 2.62,1.45, 2.5,1.2, 2.42,.95, 3.05,.93, 3.1,.99, 2.65,1.2, 1.85,.28, 1.9,.28, 1.87,.3, 2.25,.7, 2.45,.55, 2.3,.55, 2.7,-.2, 2.65,-.3, 2.7,-.4, 2.6,-.52, 2.65,-.52, 2.72,-.45, 2.8,-.4, 2.62,-.7, 2.66,-.7, 2.7,-.7, 2.65,-.4, 2.17,-.4, 2.75,-.3, 2.82,-.35, 2.35,.5, 2.64,1.5, 2.67,1.25, 2.64,1.1, 2.68,-.52, 2.74,-.7],
  [2,.57, 2.2,.92, 1.43,-.04, 1.5,-.1, 1.52,.26, 1.6,.27, 1.65,.3, 1.8,.32, 1.78,.25, 1.65,-.05, 1.7,-.05, 1.75,-.05, 1.78,.05, 1.85,-.52, 1.78,-.7, 2.35,-.7, 2.4,-.7, 2.5,-.7, 2.75,-.7, 1.43,-1, 1.65,-1, 2.5,-1, 2.45,-1, 2.5,1, 2.32,1, 2.38,1, 1.9,.45, 2.75,-.52, 2.85,-.52, 2.48,1.55, 3.1,.55, 1.63,.03, 2.42,-1, 2.48,-1],
  [2.72,1.45, 2.7,1.35, 2.72,1.3, 2.7,1.2, 2.72,1.1, 2.65,1.1, 2.6,1.05, 2.55,1, 2.5,.95, 3.02,1.25, 3,1.15, 2.45,.95, 2.6,.95, 2.5,.85, 2.4,.8, 2.4,-1, 2.45,-.7, 2.55,-.52, 2.45,-.52, 2.75,.2, 2.85,.15, 2.74,1.2, 2.76,1.3, 2.68,1.4, 2.7,1.05, 2.62,1, 2.55,.9, 2.65,.92, 2.44,-1, 2.46,-.7, 2.52,-.7],
  [3.1,.45, 3.15,.43, 3.12,.35, 3.18,.3, 3.15,.2, 3.2,.04, 3.15,-.1, 3.05,.3, 3,.25, 2.95,.35, 2.9,-.2, 2.92,-.3, 2.9,-.4, 2.85,-1, 3,-1, 3.05,-1, 3.08,-1, 3.1,-1, 3.12,-1, 3.15,-1, 3.18,-1, 3.2,-1, 2.82,-1],
  [2.95,.1, 3,0, 2.95,-.2, 2.9,.5, 3,.55],
  [2.95,1.85, 2.95,1.8, 2.95,1.75, 2.93,1.65, 2.87,1.45, 2.9,1.3, 3,1.35, 2.42,.85, 3,.65, 2.92,-1, 2.88,-1, 2.95,1.7, 2.96,1.62, 3,1.3, 3,1.4],
  [2.83,2, 2.83,1.9, 2.83,1.83, 3.05,1.85, 2.7,1.65, 2.75,1.68, 2.8,1.7, 2.85,1.65, 3,1.6, 3.05,1.65, 2.85,1.55, 2.8,1.45, 2.75,1.5, 2.7,1.55, 2.55,1.3, 2.55,1.2, 2.55,1.1, 2.5,1.05, 2.45,.85, 3,1, 3.05,.9, 3,.8, 3.45,.97, 3.48,.73, 3.2,1.17, 2.18,.57, 2.75,-1, 2.8,-1, 3.1,.95, 2.78,1.58, 2.82,1.6, 2.78,1.62, 2.52,1.25, 2.57,1.15, 2.52,1.15, 3.05,1.2, 3,.95, 2.78,-1],
  [2.67,1.87, 2.4,1.29, 2.38,1.09, 2.4,1.05, 2.4,1, 1.6,.15, 1.63,.15, 1.68,.15, 1.65,.12, 1.87,-.15, 1.82,-.4, 1.64,-.7, 2.29,-.52, 2.88,-.7, 1.7,-1, 1.82,-1, 1.85,-1, 2.2,-1, 2.25,-1, 1.72,-1],
  [1.79,.45, 2.95,1.83, 3.13,1.56, 3.08,.7, 2.75,-.35, 2.72,-.52, 2.8,-.5, 3.1,1.5, 2.98,.7, 2.65,1.15, 2.75,-.4, 2.7,-.52]
];
const points6 = [
  [1.62,.52, 2.16,.2, 2.1,.04, 1.57,0, 2.6,-.1, 2.07,-.15, 2.72,-1],
  [-1,-.7, -1,-1, 2.38,.08, 2.45,-.05, 1.57,-.3, 1.9,-.3, 2.1,-.4, 1.15,-.52, 1.8,-.52, 1.5,-.7, 1.4,-1, 1.75,-.15],
  [1.39,1.28, 1.1,.88, 1.4,.27, 1.6,.15, 1.7,.1, 1.8,.2, 1.95,.03, 1.85,-.05, 1.8,-.15, 2.2,.15, 2.25,-.05, 2.55,0, 1.7,-.23, 1.8,-.3, 1.75,-.4, 1.05,-.7, 1.33,-.52, 1.1,-.52, 1.05,-1, 1.15,-1, 1.55,-1, 1.6,-1, 2.45,.1, 2.45,.4],
  [.6,-1, 1.75,-.7, 1.85,-.52, 2.18,1.15, 1,1, 1.7,.1, 1.75,.05, 2.45,.1, 1.7,.15, 1.05,.5],
  [1.72,1.32, 1.58,1.2, 1.75,1.18, 1.87,1.13, 2.57,1.3, 1.05,1.05, 1.1,1.08, 1,.9, 1.05,.85, 1.4,.97, 2.05,.9, 2.78,.87, 2.45,.87, 2.2,.75, 2,.82, 1.9,.85, 1.6,.9, 1.75,.85, 1.2,.6, 1.3,.55, 1.1,.12, 1.2,.15, 1.3,.1, 1.35,-.05, 1.2,-.18, 1.4,-.2, 1.3,-.3, 1.15,-.4,
   1.55,.48, 1.65,.42, 1.75,.5, 1.85,.42, 1.95,.5, 2.05,.42, 2.15,.5, 2.25,.42, 2.35,.5, 2.45,.42, 2.55,.5, 1.6,.35, 1.7,.32, 1.8,.36, 1.9,.3, 2,.36, 2.1,.3, 2.2,.36, 2.3,.3, 2.4,.36, 2.5,.3, 2.6,.36, 2.7,.35, 2.8,.35, 1.85,.55, 1.95,.6, 2.1,.58, 2.2,.55, 1.9,.22, 2.05,.15, 2.6,.45, 2.8,.45, 2.7,.55, 2,.05, 2.1,-.1, 1.95,-.1,
   1.3,.95, 1.2,.85, 1.5,.8, 1.7,.75, 1.85,.7, 2,.7, 1.4,.7, 1.6,.6, 1.75,.6, 1.85,.48, 1.95,.4, 2.05,.5, 2.15,.4, 2.25,.5, 2.35,.4, 2,.28, 2.1,.22, 2.2,.25, 1.9,.15, 1.8,.08, 1.95,.2, 1.25,.2, 1.35,.1, 1.1,-.1, 1.2,-.3, 1.4,-.35, 1.32,-.4, 1.1,.02, 2.6,.38, 2.65,.33, 2.75,.38,
   1,-1, 1.05,-1, 1.15,-1, 1.2,-1, 1.25,-1, 1.3,-1, 1.35,-1, 1.4,-1, 1.46,-1, 1.5,-1, 1.55,-1, 1.6,-1, 1.65,-1, 1.7,-1, 1.75,-1, 1.8,-1, 1.85,-1, 1.9,-1, 1.95,-1, 2,-1, 2.05,-1, 2.1,-1, 2.15,-1, 2.2,-1, 2.25,-1, 2.3,-1, 2.35,-1, 2.4,-1],
  [2.22,.8, 2.25,.75, 1.75,-.15, 2.5,-1, 2.6,-1, 1.1,.2],
  [1.1,.25, 1.15,.2],
  [-1,1.6, -1,1.65, -1,1.7, -1,1.75, -1,1.8, -1,1.85, -1,1.9, -1,1.25, 1.72,1.56, 1.58,1.43, 1.15,1.4, 3.25,1.47],
  [-1,1.98, 1.08,1.62, 1.05,1.43, 1.1,1.4, .85,.56, 1.05,1.2, 1.15,1.1, 1.2,1.05, 1.3,1, 1.1,.95, 1.05,.75, 1.08,.7, 1.25,.85, 1.3,.65, 1.35,.6, 1.45,.95, 1.5,.85, 1.6,.75, 1.62,.65, 1.7,.95, 1.78,.98, 1.55,.55, 1.45,.5, 1.3,.4, 1.8,.42, 1.9,.7, 2.05,.65, 2.1,.95, 2.2,.6, 2.3,.95, 2.38,1, 2.65,1.17, 2.4,1.22, 2.2,1.2, 2.62,.98, 2.65,.72, 3.75,.68,
   1.2,1.15, 1.25,.7, 1.35,.85, 1.4,1.1, 1.5,1.05, 1.55,.98, 1.65,1.05, 1.7,.8, 1.85,1.05, 1.95,.95, 1.15,.75, 1.2,.55, 1.35,.45, 1.5,.62, 1.62,.45, 1.7,.55, 2.12,.1, 2,.35, 2.3,.2, 2.45,.2, 2.35,.55, 2.48,.55, 1.65,.9, 1.4,.8],
  [1.23,1.86, 1.28,1.36, 1.26,1.33, 2.08,1.18, 1.05,.56, 1.05,.54, 2.45,.86, 2.45,.71, 2.2,.62, 2.35,.15, 2.4,-.05, 1.95,.2, 1.55,-.7, 1.2,.95, 1.5,.38, 1.7,.7],
  [1.53,1.48, 1.07,1.25, 1.4,1.2, 1.3,.8, 1.42,.75, 1.45,.7, 1.5,.72, 1.55,.58, 1.45,.42, 1.15,.5, 2,.53, 1.8,.6, 1.85,.25, 1.55,.2, 2.15,-.15, 1.58,-.52, -1,1.4]
];
const pointSets = [points1, points2, points3, points4, points5, points6];

// panel placement on the page
const panelLeft = [0, 1100, 2200, 0, 1100, 2200];
const panelTop = [0, 0, 0, 1140, 1140, 1140];
const panelHeight = [1150, 1150, 1150, 1150, 1150, 1150];
const plotLeft = [151, 149, 148, 151, 149, 148];
const plotRight = [1066, 1066, 1066, 1066, 1066, 1066];
const plotTop = [86, 86, 86, 74, 74, 74];
const plotBottom = [1027, 1027, 1027, 1011, 1011, 1011];
const titlePadTop = [21.6, 21.6, 21.6, 7, 7, 7];
const titlePadBottom = [5.6, 5.6, 5.6, 8.2, 8.2, 8.2];
const yTitlePad = [40, 6, 4, 8, 5, 4];
const xTitlePad = [0, 0, 0, 11, 11, 11];
const legendLeft = [878, 877, 876, 166, 165, 876];
const legendTop = [102, 102, 102, 90, 90, 229];

const fontFamily = '"DejaVu Sans", sans-serif';
const textColor = '#333333';

const pairs = list => {
  const out = [];
  for (let i = 0; i < list.length; i += 2) out.push({ x: list[i], y: list[i + 1] });
  return out;
};

const tickText = v => String(v).replace('-', '\u2212');

const hexAlpha = (hex, a) => {
  const n = parseInt(hex.slice(1), 16);
  return 'rgba(' + (n >> 16) + ',' + ((n >> 8) & 255) + ',' + (n & 255) + ',' + a + ')';
};

// painted before the grid so the dashes stay on top of the regions
const regionPlugin = {
  id: 'regionPlugin',
  beforeDraw(chart, args, opts) {
    const { ctx, chartArea: a, scales: { x, y } } = chart;
    ctx.save();
    ctx.beginPath();
    ctx.rect(a.left, a.top, a.width, a.height);
    ctx.clip();
    opts.list.forEach(([color, outline]) => {
      ctx.beginPath();
      for (let i = 0; i < outline.length; i += 2) {
        ctx.lineTo(x.getPixelForValue(outline[i]), y.getPixelForValue(outline[i + 1]));
      }
      ctx.closePath();
      ctx.fillStyle = color;
      ctx.strokeStyle = color;
      ctx.lineWidth = 1;
      ctx.fill();
      ctx.stroke();
    });
    ctx.restore();
  }
};

const ellipsePlugin = {
  id: 'ellipsePlugin',
  afterDatasetsDraw(chart, args, opts) {
    const { ctx, chartArea: a, scales: { x, y } } = chart;
    ctx.save();
    ctx.beginPath();
    ctx.rect(a.left, a.top, a.width, a.height);
    ctx.clip();
    opts.list.forEach(([cls, cx, cy, rx, ry, tilt]) => {
      const px = x.getPixelForValue(cx);
      const py = y.getPixelForValue(cy);
      const rpx = Math.abs(x.getPixelForValue(cx + rx) - px);
      const rpy = Math.abs(y.getPixelForValue(cy + ry) - py);
      ctx.beginPath();
      ctx.ellipse(px, py, rpx, rpy, tilt * Math.PI / 180, 0, Math.PI * 2);
      ctx.fillStyle = hexAlpha(ellipseColors[cls], ellipseAlphas[cls]);
      ctx.strokeStyle = 'rgba(0,0,0,0.6)';
      ctx.lineWidth = 5;
      ctx.fill();
      ctx.stroke();
    });
    ctx.restore();
  }
};

// inward ticks and the boxed class legend
const framePlugin = {
  id: 'framePlugin',
  afterDraw(chart, args, opts) {
    const { ctx, chartArea: a, scales: { x, y } } = chart;
    ctx.save();
    ctx.strokeStyle = textColor;
    ctx.lineWidth = 3;
    x.ticks.forEach(t => {
      const p = x.getPixelForValue(t.value);
      ctx.beginPath(); ctx.moveTo(p, a.bottom); ctx.lineTo(p, a.bottom - 10); ctx.stroke();
    });
    y.ticks.forEach(t => {
      const p = y.getPixelForValue(t.value);
      ctx.beginPath(); ctx.moveTo(a.left, p); ctx.lineTo(a.left + 10, p); ctx.stroke();
    });

    const bx = opts.left, by = opts.top;
    ctx.beginPath();
    ctx.roundRect(bx, by, 174, 767, 6);
    ctx.fillStyle = 'rgba(255,255,255,0.96)';
    ctx.fill();
    ctx.strokeStyle = 'rgba(204,204,204,0.8)';
    ctx.lineWidth = 2;
    ctx.stroke();

    ctx.textBaseline = 'middle';
    ctx.fillStyle = textColor;
    ctx.textAlign = 'center';
    ctx.font = '30px ' + fontFamily;
    ctx.fillText('Classes', bx + 87, by + 27);
    ctx.textAlign = 'left';
    ctx.font = '48px ' + fontFamily;
    classNames.forEach((name, i) => {
      const ry = by + 80 + i * 64.7;
      const mx = bx + 46;
      ctx.strokeStyle = classColors[i];
      ctx.lineWidth = 5;
      ctx.beginPath();
      ctx.moveTo(mx - 10, ry - 10); ctx.lineTo(mx + 10, ry + 10);
      ctx.moveTo(mx - 10, ry + 10); ctx.lineTo(mx + 10, ry - 10);
      ctx.stroke();
      ctx.fillStyle = textColor;
      ctx.fillText(name, bx + 102, ry);
    });
    ctx.restore();
  }
};

const axisOptions = (ticks, label, pad, fixSize) => ({
  type: 'linear',
  min: ticks[0],
  max: ticks[ticks.length - 1],
  afterBuildTicks: scale => { scale.ticks = ticks.map(value => ({ value })); },
  afterFit: fixSize,
  title: {
    display: true,
    text: label,
    color: textColor,
    font: { family: fontFamily, size: 50 },
    padding: pad
  },
  ticks: {
    color: textColor,
    font: { family: fontFamily, size: 48 },
    maxRotation: 0,
    autoSkip: false,
    callback: tickText
  },
  grid: { color: 'rgba(205,205,205,0.75)', lineWidth: 2, drawTicks: false },
  border: { display: true, color: textColor, width: 3, dash: [8, 6] }
});

titles.forEach((title, p) => {
  const canvas = document.createElement('canvas');
  canvas.width = 1100;
  canvas.height = panelHeight[p];
  canvas.style.left = panelLeft[p] + 'px';
  canvas.style.top = panelTop[p] + 'px';
  document.getElementById('wrap').appendChild(canvas);

  const xAxis = axisOptions(xTicks[p], xLabels[p], { top: 0, bottom: xTitlePad[p] }, s => { s.height = panelHeight[p] - plotBottom[p]; });
  xAxis.ticks.padding = 8;
  const yAxis = axisOptions(yTicks[p], yLabels[p], { top: yTitlePad[p], bottom: 0 }, s => { s.width = plotLeft[p]; });
  yAxis.ticks.padding = 12;

  new Chart(canvas.getContext('2d'), {
    type: 'scatter',
    data: {
      datasets: classNames.map((name, c) => ({
        label: name,
        data: pairs(pointSets[p][c]),
        pointStyle: 'crossRot',
        pointRadius: 12,
        pointBorderWidth: 6,
        pointBorderColor: classColors[c],
        pointBackgroundColor: classColors[c]
      }))
    },
    options: {
      responsive: false,
      animation: false,
      devicePixelRatio: 1,
      events: [],
      layout: { autoPadding: false, padding: { left: 0, top: 0, right: 1100 - plotRight[p], bottom: 0 } },
      scales: { x: xAxis, y: yAxis },
      plugins: {
        legend: { display: false },
        tooltip: { enabled: false },
        title: {
          display: true,
          fullSize: false,
          text: title,
          color: textColor,
          font: { family: fontFamily, size: 49, weight: 'normal' },
          padding: { top: titlePadTop[p], bottom: titlePadBottom[p] }
        },
        regionPlugin: { list: regionSets[p] },
        ellipsePlugin: { list: ellipseSets[p] },
        framePlugin: { left: legendLeft[p], top: legendTop[p] }
      }
    },
    plugins: [regionPlugin, ellipsePlugin, framePlugin]
  });
});
</script>
</body>
</html>
